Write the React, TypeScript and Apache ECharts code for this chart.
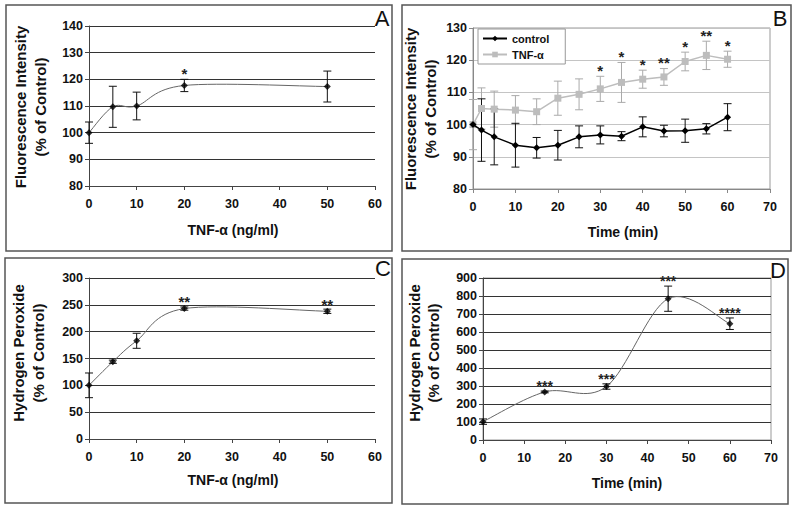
import React, { useEffect, useRef } from 'react';
import * as echarts from 'echarts';

// Panel A: fluorescence vs TNF-α dose
const aDose = [0, 5, 10, 20, 50];
const aMean = [100, 109.7, 110, 117.7, 117.3];
const aErr = [4, 7.7, 5.2, 2.3, 5.8];
const aStars = ['', '', '', '*', ''];

// Panel B: fluorescence vs time
const bTime = [0, 2, 5, 10, 15, 20, 25, 30, 35, 40, 45, 50, 55, 60];
const bControl = [100, 98.3, 96.2, 93.6, 92.8, 93.6, 96.2, 96.8, 96.4, 99.3, 98.0, 98.1, 98.7, 102.3];
const bControlErr = [0, 9.7, 8.7, 6.8, 3.2, 4.6, 3.4, 2.8, 1.4, 3.1, 1.8, 3.6, 1.6, 4.2];
const bTnf = [100, 105, 104.8, 104.5, 104.0, 108.2, 109.4, 111.1, 113.1, 114.1, 114.8, 119.6, 121.5, 120.3];
const bTnfErr = [7.8, 6.4, 5.6, 4.5, 4, 5.3, 4.8, 3.9, 6.2, 2.8, 2.6, 2.9, 4.4, 2.5];
const bStars = ['', '', '', '', '', '', '', '*', '*', '*', '**', '*', '**', '*'];

// Panel C: H2O2 vs TNF-α dose
const cDose = [0, 5, 10, 20, 50];
const cMean = [100, 144, 183, 243, 238];
const cErr = [23, 3, 14, 3, 4];
const cStars = ['', '', '', '**', '**'];

// Panel D: H2O2 vs time
const dTime = [0, 15, 30, 45, 60];
const dMean = [102, 267, 297, 785, 646];
const dErr = [15, 5, 15, 70, 32];
const dStars = ['', '***', '***', '***', '****'];

const FONT = '"Liberation Sans", Arial, sans-serif';

function errorSeries(xs: number[], ys: number[], errs: number[], stars: string[], idx: number, color: string, starSize: number, starGap: number) {
  return {
    type: 'custom',
    xAxisIndex: idx,
    yAxisIndex: idx,
    silent: true,
    z: 3,
    data: xs.map((x, i) => [x, ys[i], errs[i]]),
    renderItem: (params: any, api: any) => {
      const x = api.value(0);
      const y = api.value(1);
      const e = api.value(2);
      const top = api.coord([x, y + e]);
      const bot = api.coord([x, y - e]);
      const children: any[] = [];
      if (e > 0) {
        const st = { stroke: color, lineWidth: 1 };
        children.push({ type: 'line', shape: { x1: top[0], y1: top[1], x2: bot[0], y2: bot[1] }, style: st });
        children.push({ type: 'line', shape: { x1: top[0] - 4, y1: top[1], x2: top[0] + 4, y2: top[1] }, style: st });
        children.push({ type: 'line', shape: { x1: bot[0] - 4, y1: bot[1], x2: bot[0] + 4, y2: bot[1] }, style: st });
      }
      const s = stars[params.dataIndex];
      if (s) {
        children.push({
          type: 'text',
          x: top[0],
          y: top[1] - starGap,
          style: { text: s, fill: '#222', font: `bold ${starSize}px ${FONT}`, align: 'center', verticalAlign: 'middle' },
        });
      }
      return { type: 'group', children };
    },
  };
}

// Excel-like smoothed line (Catmull-Rom segments through the data points, in pixel space)
function smoothSeries(xs: number[], ys: number[], idx: number, color: string) {
  return {
    type: 'custom',
    xAxisIndex: idx,
    yAxisIndex: idx,
    silent: true,
    z: 2,
    data: xs.map((x, i) => [x, ys[i]]),
    renderItem: (params: any, api: any) => {
      const i = params.dataIndex;
      const n = xs.length;
      if (i >= n - 1) return { type: 'group', children: [] };
      const P = (k: number) => {
        const j = Math.max(0, Math.min(n - 1, k));
        return api.coord([xs[j], ys[j]]);
      };
      const p0 = P(i - 1), p1 = P(i), p2 = P(i + 1), p3 = P(i + 2);
      const t = 1 / 6;
      return {
        type: 'bezierCurve',
        shape: {
          x1: p1[0], y1: p1[1],
          cpx1: p1[0] + (p2[0] - p0[0]) * t, cpy1: p1[1] + (p2[1] - p0[1]) * t,
          cpx2: p2[0] - (p3[0] - p1[0]) * t, cpy2: p2[1] - (p3[1] - p1[1]) * t,
          x2: p2[0], y2: p2[1],
        },
        style: { stroke: color, lineWidth: 1, fill: 'none' },
      };
    },
  };
}

function markerSeries(xs: number[], ys: number[], idx: number) {
  return {
    type: 'scatter', xAxisIndex: idx, yAxisIndex: idx, data: xs.map((x, i) => [x, ys[i]]),
    symbol: 'diamond', symbolSize: 7, itemStyle: { color: '#000' }, z: 4, silent: true,
  };
}

function xAxis(idx: number, max: number, lineColor: string) {
  return {
    gridIndex: idx,
    type: 'value',
    min: 0,
    max,
    interval: 10,
    axisLine: { show: true, onZero: false, lineStyle: { color: lineColor, width: 1 } },
    axisTick: { show: true, length: 4, lineStyle: { color: lineColor } },
    splitLine: { show: false },
    axisLabel: { color: '#111', fontWeight: 'bold', fontSize: 12.5, fontFamily: FONT, margin: 11 },
  };
}

function yAxis(idx: number, min: number, max: number, interval: number, lineColor: string, gridColor: string) {
  return {
    gridIndex: idx,
    type: 'value',
    min,
    max,
    interval,
    axisLine: { show: true, onZero: false, lineStyle: { color: lineColor, width: 1 } },
    axisTick: { show: true, length: 4, lineStyle: { color: lineColor } },
    splitLine: { show: true, lineStyle: { color: gridColor, width: 1 } },
    axisLabel: { color: '#111', fontWeight: 'bold', fontSize: 12.5, fontFamily: FONT, margin: 6 },
  };
}

function pts(xs: number[], ys: number[]) {
  return xs.map((x, i) => [x, ys[i]]);
}

function box(x: number, y: number, w: number, h: number) {
  return { type: 'rect', shape: { x, y, width: w, height: h }, style: { fill: 'none', stroke: '#555', lineWidth: 1.5 }, silent: true };
}

function label(text: string, x: number, y: number, size: number, weight: string, rotate = 0, lineHeight = 0) {
  return {
    type: 'text',
    x,
    y,
    rotation: rotate,
    silent: true,
    style: {
      text,
      fill: '#111',
      font: `${weight} ${size}px ${FONT}`,
      align: 'center',
      verticalAlign: 'middle',
      lineHeight: lineHeight || undefined,
    },
  };
}

export default function App() {
  const ref = useRef<HTMLDivElement>(null);
  useEffect(() => {
    document.body.style.margin = '0';
    const chart = echarts.init(ref.current!, null, { renderer: 'svg' });
    const option: any = {
      animation: false,
      backgroundColor: '#fff',
      grid: [
        { left: 89, top: 26, width: 286, height: 160 },
        { left: 473, top: 28, width: 297, height: 161, show: true, borderColor: '#999', borderWidth: 1 },
        { left: 89, top: 278, width: 286, height: 161 },
        { left: 483, top: 278, width: 288, height: 162, show: true, borderColor: '#999', borderWidth: 1 },
      ],
      xAxis: [xAxis(0, 60, '#444'), xAxis(1, 70, '#888'), xAxis(2, 60, '#444'), xAxis(3, 70, '#444')],
      yAxis: [
        yAxis(0, 80, 140, 10, '#444', '#333'),
        yAxis(1, 80, 130, 10, '#888', '#c4c4c4'),
        yAxis(2, 0, 300, 50, '#444', '#333'),
        yAxis(3, 0, 900, 100, '#444', '#333'),
      ],
      legend: {
        data: ['control', 'TNF-α'],
        orient: 'vertical',
        left: 478,
        top: 29,
        itemWidth: 24,
        itemHeight: 7,
        itemGap: 5,
        backgroundColor: '#fff',
        borderColor: '#999',
        borderWidth: 1,
        borderRadius: 0,
        padding: [4, 16, 4, 4],
        textStyle: { color: '#111', fontWeight: 'bold', fontSize: 11, fontFamily: FONT },
      },
      series: [
        smoothSeries(aDose, aMean, 0, '#666'),
        markerSeries(aDose, aMean, 0),
        errorSeries(aDose, aMean, aErr, aStars, 0, '#111', 15, 6),
        {
          type: 'line', name: 'TNF-α', xAxisIndex: 1, yAxisIndex: 1, data: pts(bTime, bTnf),
          symbol: 'rect', symbolSize: 7, itemStyle: { color: '#bdbdbd' }, lineStyle: { color: '#bdbdbd', width: 1.5 }, z: 4,
        },
        {
          type: 'line', name: 'control', xAxisIndex: 1, yAxisIndex: 1, data: pts(bTime, bControl),
          symbol: 'diamond', symbolSize: 7, itemStyle: { color: '#000' }, lineStyle: { color: '#000', width: 1.5 }, z: 5,
        },
        errorSeries(bTime, bTnf, bTnfErr, bStars, 1, '#aaa', 15, 6),
        errorSeries(bTime, bControl, bControlErr, [], 1, '#111', 15, 6),
        smoothSeries(cDose, cMean, 2, '#666'),
        markerSeries(cDose, cMean, 2),
        errorSeries(cDose, cMean, cErr, cStars, 2, '#111', 15, 5),
        smoothSeries(dTime, dMean, 3, '#666'),
        markerSeries(dTime, dMean, 3),
        errorSeries(dTime, dMean, dErr, dStars, 3, '#111', 14, 5),
      ],
      graphic: [
        box(6, 5, 386, 246),
        box(402, 5, 389, 246),
        box(5, 258, 387, 245),
        box(402, 259, 386, 245),
        label('A', 382, 18, 22, 'normal'),
        label('B', 780, 18, 22, 'normal'),
        label('C', 383, 268, 22, 'normal'),
        label('D', 778, 270, 22, 'normal'),
        label('Fluorescence Intensity\n(% of Control)', 30, 107, 15, 'bold', Math.PI / 2, 20),
        label('Fluorescence Intensity\n(% of Control)', 420, 109, 15, 'bold', Math.PI / 2, 20),
        label('Hydrogen Peroxide\n(% of Control)', 28, 353, 15, 'bold', Math.PI / 2, 20),
        label('Hydrogen Peroxide\n(% of Control)', 424, 353, 15, 'bold', Math.PI / 2, 19),
        label('TNF-α (ng/ml)', 233, 230, 14, 'bold'),
        label('Time (min)', 623, 232, 14, 'bold'),
        label('TNF-α (ng/ml)', 233, 480, 14, 'bold'),
        label('Time (min)', 627, 483, 14, 'bold'),
      ],
    };
    chart.setOption(option);
    return () => chart.dispose();
  }, []);
  return <div ref={ref} style={{ width: 800, height: 511 }} />;
}
